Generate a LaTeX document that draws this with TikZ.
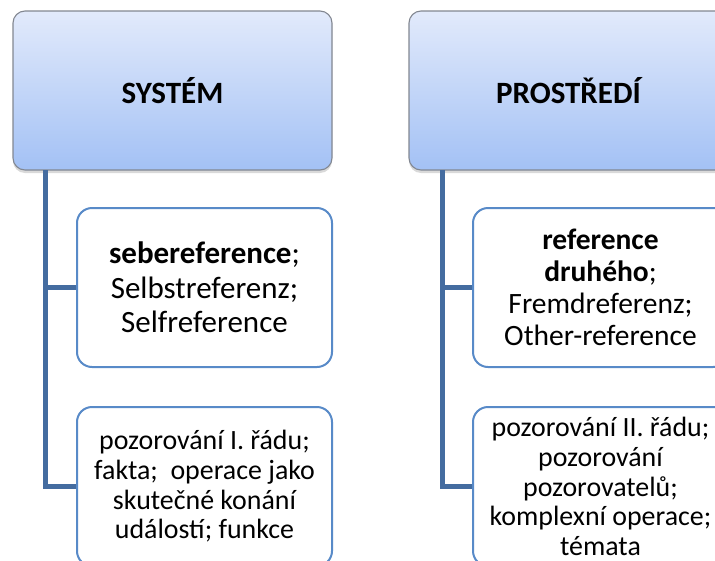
\documentclass[tikz,border=0pt]{standalone}
\usepackage{fontspec}
\setmainfont{Carlito}
\usetikzlibrary{shadows}
\definecolor{headtop}{RGB}{226,234,251}
\definecolor{headbot}{RGB}{163,193,245}
\definecolor{headedge}{RGB}{130,135,145}
\definecolor{childedge}{RGB}{88,138,200}
\definecolor{linkcol}{RGB}{68,108,160}
\tikzset{
  headbox/.style={draw=headedge, line width=1.1pt, rounded corners=12pt,
    top color=headtop, bottom color=headbot,
    drop shadow={shadow xshift=0pt, shadow yshift=-3pt, opacity=0.3},
    minimum width=319pt, minimum height=159pt, inner sep=0pt,
    font=\fontsize{31}{36}\selectfont\bfseries},
  childbox/.style={draw=childedge, line width=2pt, rounded corners=15pt, fill=white,
    minimum width=255pt, minimum height=159pt, inner sep=0pt, align=center},
  bigtext/.style={font=\fontsize{31}{34.5}\selectfont},
  midtext/.style={font=\fontsize{29.5}{32}\selectfont},
  smalltext/.style={font=\fontsize{27.9}{29.7}\selectfont},
  link/.style={draw=linkcol, line width=5pt}
}
\begin{document}
\begin{tikzpicture}[x=1pt, y=-1pt]
\useasboundingbox (0,0) rectangle (715,560);
\clip (0,0) rectangle (715,560);

% column heads
\node[headbox] (sys) at (172.5,90.5) {SYSTÉM};
\node[headbox] (env) at (568.5,90.5) {PROSTŘEDÍ};

% system column
\node[childbox, bigtext] (sys1) at (204.5,287.5)
  {\textbf{sebereference};\\Selbstreferenz;\\Selfreference};
\node[childbox, smalltext] (sys2) at (204.5,486.5)
  {pozorování I. řádu;\\fakta;\ \ operace jako\\skutečné konání\\událostí; funkce};

% environment column
\node[childbox, midtext] (env1) at (600.5,287.5)
  {\textbf{reference}\\\textbf{druhého};\\Fremdreferenz;\\Other-reference};
\node[childbox, smalltext] (env2) at (600.5,486.5)
  {pozorování II. řádu;\\pozorování\\pozorovatelů;\\komplexní operace;\\témata};

% connectors from each head down to its two children
\coordinate (sysroot) at (45,170);
\coordinate (envroot) at (442,170);
\draw[link] (sysroot) |- (sys2.west);
\draw[link] (sysroot |- sys1.west) -- (sys1.west);
\draw[link] (envroot) |- (env2.west);
\draw[link] (envroot |- env1.west) -- (env1.west);
\end{tikzpicture}
\end{document}
